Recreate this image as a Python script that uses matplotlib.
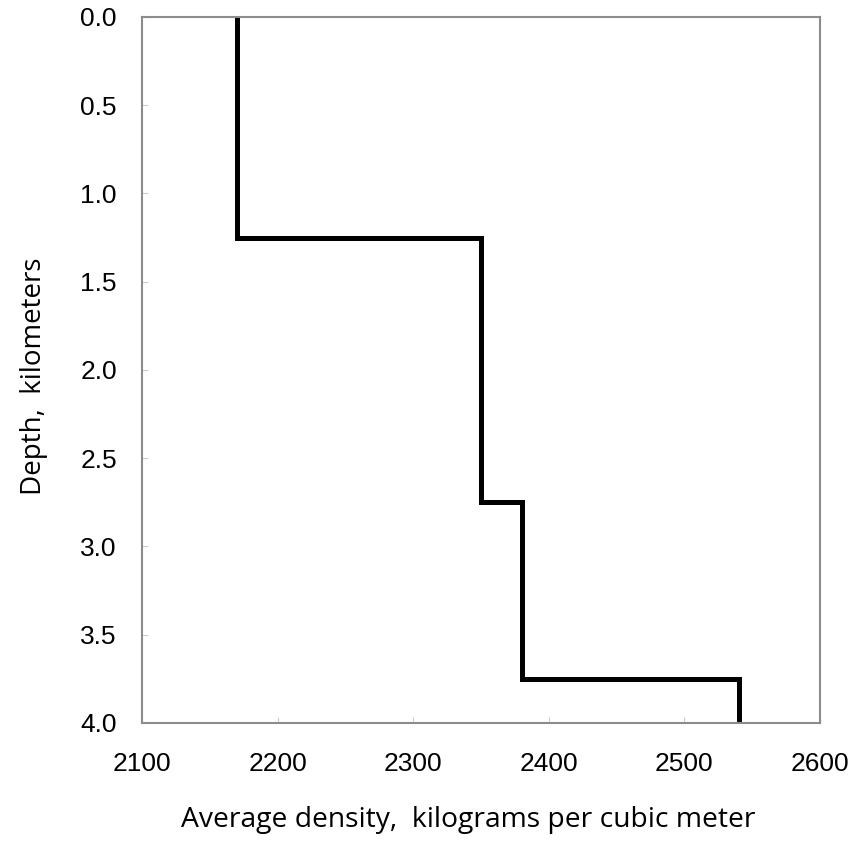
import matplotlib
matplotlib.use("Agg")
import matplotlib.pyplot as plt

# density profile (step), kg/m^3 vs depth km
density = [2170, 2170, 2350, 2350, 2380, 2380, 2540, 2540]
depth = [0.0, 1.25, 1.25, 2.75, 2.75, 3.75, 3.75, 4.0]

xticks = [2100, 2200, 2300, 2400, 2500, 2600]
yticks = [0.0, 0.5, 1.0, 1.5, 2.0, 2.5, 3.0, 3.5, 4.0]

fig = plt.figure(figsize=(8.55, 8.44), dpi=100)
ax = fig.add_axes([0.166, 0.1434, 0.793, 0.8366])

ax.plot(density, depth, color="black", linewidth=3.6, solid_joinstyle="miter")

ax.set_xlim(2100, 2600)
ax.set_ylim(4.0, 0.0)
ax.set_xticks(xticks)
ax.set_yticks(yticks)
ax.set_yticklabels([f"{v:.1f}" for v in yticks])

for s in ax.spines.values():
    s.set_color("#8c8c8c")
    s.set_linewidth(1.5)

ax.tick_params(direction="in", length=4, width=0.8, color="#cccccc",
               labelsize=19)
ax.tick_params(axis="x", pad=21)
ax.tick_params(axis="y", pad=18)
for lab in ax.get_xticklabels() + ax.get_yticklabels():
    lab.set_family("Liberation Sans")

ax.set_xlabel("Average density,  kilograms per cubic meter", fontsize=20.3,
              family="Open Sans", va="center")
ax.set_ylabel("Depth,  kilometers", fontsize=20, family="Open Sans", va="center")
ax.xaxis.set_label_coords(0.481, -0.138)
ax.yaxis.set_label_coords(-0.159, 0.4915)

fig.savefig("out.png", dpi=100)
